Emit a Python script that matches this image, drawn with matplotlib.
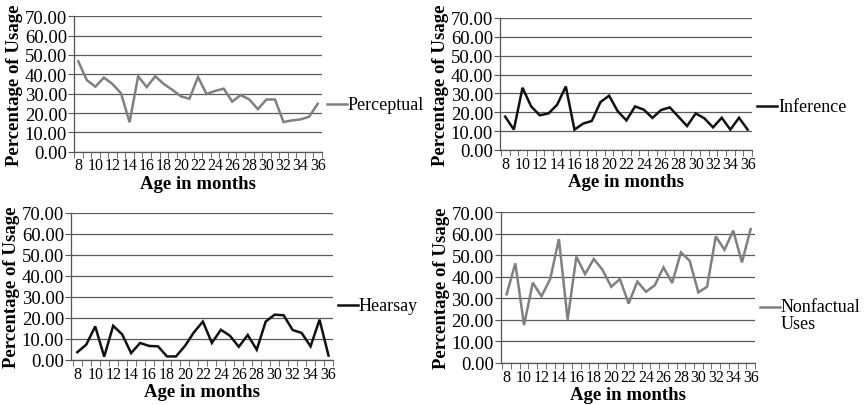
import matplotlib.pyplot as plt
from matplotlib.lines import Line2D
import numpy as np

plt.rcParams['font.family'] = ['Liberation Serif', 'DejaVu Serif']

# ages in months
ages = np.arange(8, 37)

perceptual = [46.7, 37.0, 33.6, 38.3, 35.0, 30.2, 15.2, 39.0, 33.4, 39.0,
              35.0, 32.0, 28.6, 27.4, 38.6, 29.8, 31.4, 32.6, 25.9, 29.3,
              27.0, 22.0, 27.0, 27.0, 15.3, 16.2, 16.7, 18.1, 24.8]
inference = [17.7, 10.8, 33.0, 23.1, 18.4, 19.4, 24.0, 33.7, 10.8, 14.0,
             15.4, 25.4, 28.8, 20.5, 15.7, 23.1, 21.4, 17.0, 21.2, 22.6,
             17.7, 12.7, 19.4, 16.8, 12.0, 17.1, 10.8, 17.1, 10.8]
hearsay = [3.7, 7.3, 16.0, 1.6, 16.3, 12.2, 3.3, 8.1, 6.7, 6.5,
           1.7, 1.7, 6.7, 13.2, 18.3, 8.1, 14.4, 11.6, 6.3, 11.9,
           4.9, 18.3, 21.6, 21.3, 14.3, 12.9, 6.5, 19.2, 2.1]
nonfactual = [31.9, 46.3, 17.6, 37.3, 31.0, 39.0, 57.6, 20.1, 49.4, 41.3,
              48.3, 43.3, 35.4, 39.0, 27.6, 37.8, 33.1, 36.1, 44.4, 37.2,
              51.4, 47.5, 32.8, 35.4, 58.8, 52.6, 61.5, 46.7, 62.2]

W, H = 865, 406
fig = plt.figure(figsize=(W / 100, H / 100), dpi=100)

GRAY = '#808080'
BLACK = '#111111'


def panel(left, right, top, bottom, xpad, values, color, label, leg_y):
    ax = fig.add_axes([left / W, 1 - bottom / H, (right - left) / W, (bottom - top) / H])
    ax.plot(ages, values, color=color, lw=1.8, solid_joinstyle='miter')
    ax.set_xlim(8 - xpad[0], 36 + xpad[1])
    ax.set_ylim(0, 70)
    ax.set_yticks(np.arange(0, 71, 10))
    ax.set_yticklabels(['%.2f' % v for v in np.arange(0, 71, 10)], fontsize=13.5)
    ax.set_xticks(np.arange(8, 37, 2))
    ax.set_xticklabels([str(a) for a in range(8, 37, 2)], fontsize=11.5)
    ax.set_xticks(np.arange(7.5, 37, 1), minor=True)
    ax.tick_params(axis='x', which='major', length=0, pad=4)
    ax.tick_params(axis='x', which='minor', length=4, color='#555555', direction='out')
    ax.tick_params(axis='y', length=4, color='#555555', pad=1)
    ax.yaxis.grid(True, color='#5a5a5a', lw=0.9)
    ax.set_axisbelow(True)
    for s in ['top', 'right']:
        ax.spines[s].set_visible(False)
    for s in ['left', 'bottom']:
        ax.spines[s].set_color('#555555')
        ax.spines[s].set_linewidth(0.9)
    ax.set_ylabel('Percentage of Usage', fontsize=13.5, fontweight='bold', labelpad=1)
    ax.set_xlabel('Age in months', fontsize=13.5, fontweight='bold', labelpad=1)
    # legend drawn to the right of the plot area
    span = right - left
    lx0 = 1 + 5 / span
    lx1 = 1 + 25 / span
    ax.add_line(Line2D([lx0, lx1], [leg_y, leg_y], transform=ax.transAxes,
                       color=color, lw=1.8, clip_on=False))
    if '\n' in label:
        ax.text(lx1 + 1 / span, leg_y + 9 / (bottom - top), label, transform=ax.transAxes,
                fontsize=13, va='top', ha='left', linespacing=1.0)
    else:
        ax.text(lx1 + 1 / span, leg_y, label, transform=ax.transAxes,
                fontsize=13, va='center', ha='left')
    return ax


panel(74, 322, 17.3, 152.7, (0.43, 0.4), perceptual, GRAY, 'Perceptual', 0.352)
panel(500, 752, 19, 151, (0.6, 0.35), inference, BLACK, 'Inference', 0.333)
panel(71, 333, 214, 361, (0.7, 0.33), hearsay, BLACK, 'Hearsay', 0.374)
panel(500.7, 755, 213.3, 364, (0.68, 0.28), nonfactual, GRAY, 'Nonfactual\nUses', 0.372)

fig.savefig('out.png', dpi=100)
